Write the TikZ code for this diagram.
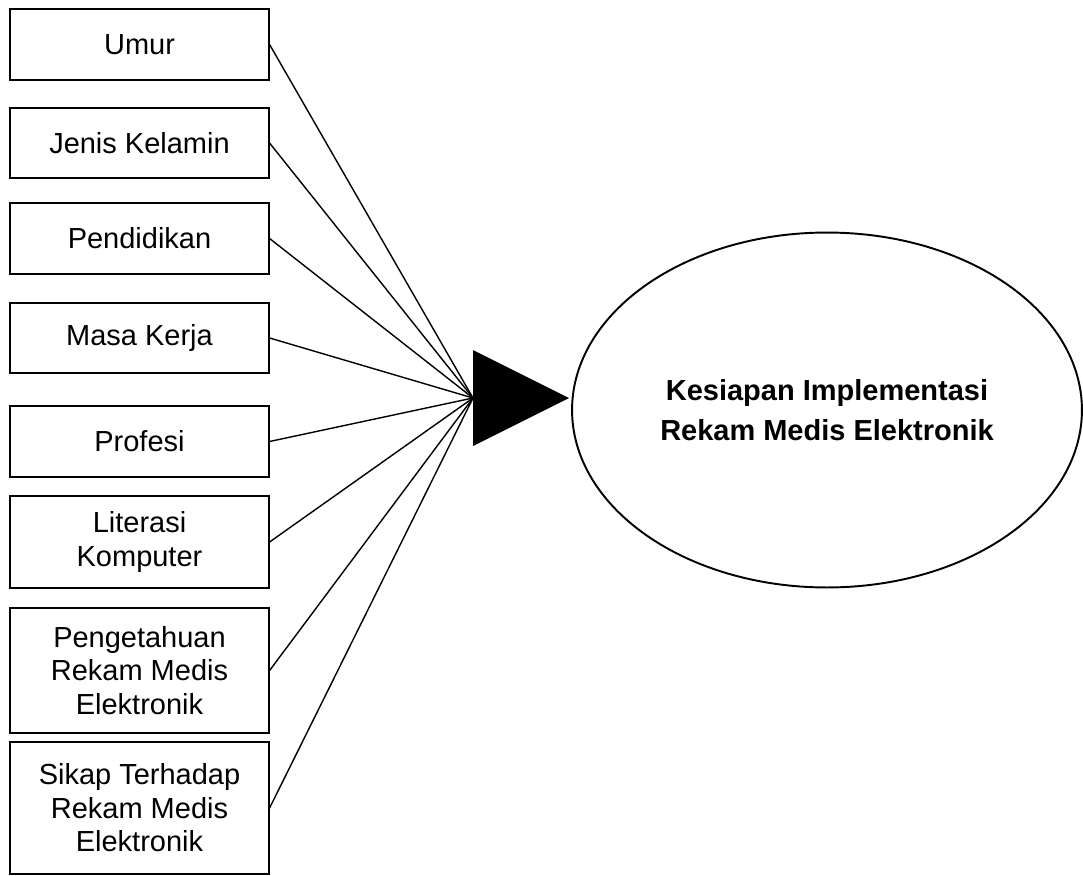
\documentclass[tikz,border=0pt]{standalone}
\usepackage{fontspec}
\setmainfont{Liberation Sans}
\usetikzlibrary{shapes.geometric,positioning}

\begin{document}
\begin{tikzpicture}[x=0.02cm,y=-0.02cm,
  var/.style={draw,line width=0.7pt,minimum width=5.18cm,align=center,inner sep=0pt,font=\fontsize{16.5}{19}\selectfont},
  link/.style={line width=0.8pt}]
\useasboundingbox (0,0) rectangle (1083,876);
\node[var,minimum height=1.42cm] (umur) at (139.5,44.5) {Umur};
\node[var,minimum height=1.40cm] (jenis) at (139.5,143) {Jenis Kelamin};
\node[var,minimum height=1.42cm] (pendidikan) at (139.5,238.5) {Pendidikan};
\node[var,minimum height=1.40cm] (masakerja) at (139.5,338) {Masa Kerja};
\node[var,minimum height=1.42cm] (profesi) at (139.5,441.5) {Profesi};
\node[var,minimum height=1.84cm] (literasi) at (139.5,542) {Literasi\\Komputer};
\node[var,minimum height=2.50cm] (pengetahuan) at (139.5,670.5) {Pengetahuan\\Rekam Medis\\Elektronik};
\node[var,minimum height=2.64cm] (sikap) at (139.5,808) {Sikap Terhadap\\Rekam Medis\\Elektronik};
\coordinate (hub) at (473,398);
\foreach \v in {umur,jenis,pendidikan,masakerja,profesi,literasi,pengetahuan,sikap}
  \draw[link] (\v.east) -- (hub);
\fill (hub) ++(0,-48) -- ++(96,48) -- ++(-96,48) -- cycle;
\node[ellipse,draw,line width=1.1pt,minimum width=10.2cm,minimum height=7.1cm,align=center,
  font=\bfseries\fontsize{16.5}{22.8}\selectfont] (kesiapan) at (827,410) {Kesiapan Implementasi\\Rekam Medis Elektronik};
\end{tikzpicture}
\end{document}
